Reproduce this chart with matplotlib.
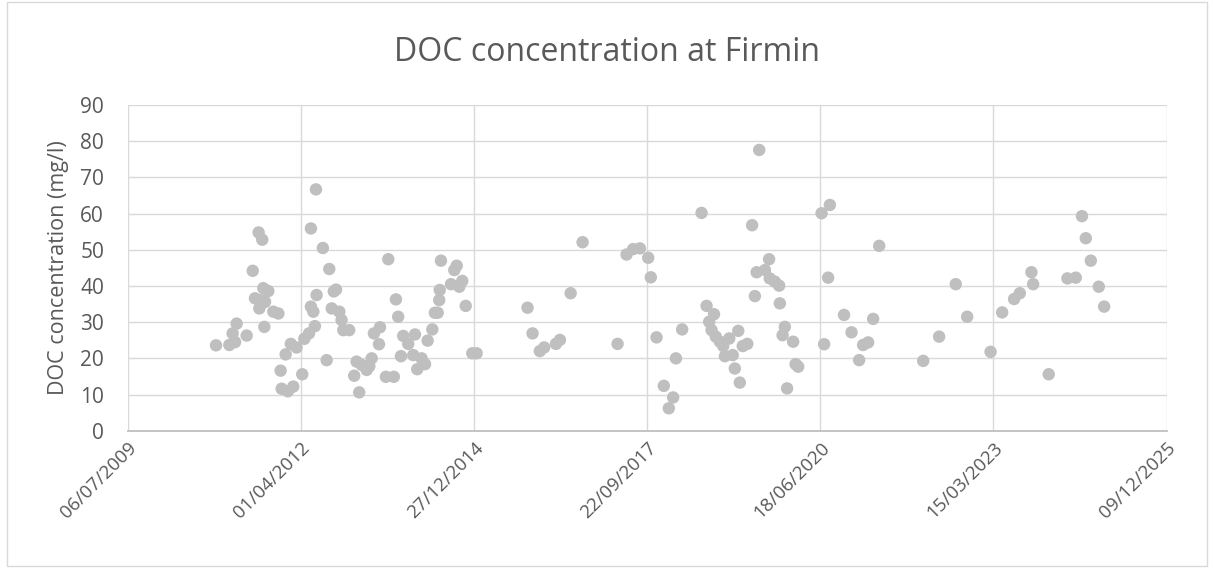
import matplotlib
matplotlib.use("Agg")
import matplotlib.pyplot as plt
import matplotlib.dates as mdates
import matplotlib.patches as mpatches
import pandas as pd
import numpy as np

# Sample dates as Excel serial day numbers
date_serials = [
    40510, 40587, 40606, 40620, 40629, 40687, 40722, 40756, 40777, 40783,
    40812, 40735, 40765, 40793, 40760, 40841, 40870, 40789, 40883, 40889,
    40925, 40956, 40912, 40942, 40975, 41008, 41020, 41047, 41081, 41058,
    41091, 41072, 41058, 41087, 41127, 41164, 41190, 41203, 41178, 41222,
    41235, 41245, 41279, 41149, 41322, 41351, 41380, 41409, 41395, 41308,
    41337, 41422, 41457, 41451, 41505, 41491, 41537, 41549, 41562, 41591,
    41620, 41659, 41578, 41649, 41697, 41717, 41672, 41732, 41759, 41774,
    41790, 41799, 41802, 41809, 41867, 41886, 41900, 41915, 41932, 41952,
    41990, 42015,
    42309, 42338, 42380, 42405, 42473, 42496, 42558, 42627, 42829, 42881,
    42919, 42958, 43006, 43021, 43054, 43096, 43125, 43150, 43166, 43202,
    43314, 43343, 43386, 43358, 43372, 43396, 43420, 43439, 43449, 43494,
    43474, 43526, 43552, 43578, 43506, 43535, 43622, 43606, 43632, 43647,
    43680, 43704, 43708, 43737, 43762, 43766, 43795, 43782, 43843, 43808,
    43857, 43872, 44022, 44007, 44055, 44045, 44137, 44180, 44224, 44247,
    44276, 44305, 44340, 44594, 44686, 44782, 44848, 44983, 45050, 45119,
    45152, 45219, 45229, 45319, 45427, 45475, 45511, 45533, 45562, 45608,
    45639,
]
doc_mg_l = [
    23.6, 23.7, 26.9, 24.5, 29.6, 26.3, 44.2, 54.8, 52.8, 39.4,
    38.6, 36.6, 36.1, 35.6, 33.8, 32.9, 32.4, 28.7, 16.6, 11.6,
    10.9, 12.2, 21.1, 24.0, 23.0, 15.6, 25.4, 26.9, 28.9, 34.3,
    37.5, 32.9, 55.9, 66.7, 50.5, 44.7, 38.5, 39.0, 33.8, 32.9,
    30.6, 27.8, 27.8, 19.5, 19.1, 18.2, 16.8, 20.0, 17.8, 15.2,
    10.6, 26.9, 28.6, 23.9, 47.4, 14.9, 14.9, 36.3, 31.5, 26.2,
    24.0, 26.6, 20.6, 20.9, 20.0, 18.4, 17.0, 24.9, 28.0, 32.6,
    32.6, 36.1, 38.9, 47.0, 40.5, 44.4, 45.6, 39.8, 41.4, 34.5,
    21.4, 21.4,
    34.0, 26.9, 22.0, 23.0, 24.0, 25.1, 38.0, 52.1, 24.0, 48.7,
    50.2, 50.4, 47.8, 42.4, 25.8, 12.4, 6.2, 9.2, 20.0, 28.0,
    60.2, 34.5, 32.2, 30.1, 27.8, 26.0, 24.6, 23.4, 20.6, 20.9,
    25.5, 27.6, 23.4, 24.0, 17.2, 13.3, 37.2, 56.8, 43.8, 77.6,
    44.4, 47.4, 42.1, 41.2, 40.1, 35.2, 28.7, 26.4, 24.6, 11.7,
    18.4, 17.7, 23.9, 60.1, 62.4, 42.3, 32.0, 27.2, 19.5, 23.7,
    24.4, 30.9, 51.1, 19.3, 26.0, 40.5, 31.5, 21.8, 32.7, 36.4,
    38.0, 43.8, 40.5, 15.6, 42.1, 42.3, 59.3, 53.2, 47.0, 39.8,
    34.3,
]
x_tick_serials = [40000, 41000, 42000, 43000, 44000, 45000, 46000]
y_ticks = [0, 10, 20, 30, 40, 50, 60, 70, 80, 90]

title = "DOC concentration at Firmin"
y_label = "DOC concentration (mg/l)"

origin = "1899-12-30"
dates = pd.to_datetime(date_serials, unit="D", origin=origin)
x_ticks = pd.to_datetime(x_tick_serials, unit="D", origin=origin)

plt.rcParams['font.family'] = ['Open Sans', 'DejaVu Sans']

fig = plt.figure(figsize=(12.14, 5.68), dpi=100)
ax = fig.add_axes([0.1052, 0.2417, 0.961 - 0.1052, 0.815 - 0.2417])

# chart-area border
fig.patches.append(mpatches.Rectangle((0.006, 0.004), 0.988, 0.992, transform=fig.transFigure,
                                      fill=False, edgecolor="#D9D9D9", linewidth=1.0))

ax.scatter(dates, doc_mg_l, s=80, color="#BFBFBF", edgecolors="none", zorder=3)

ax.set_xlim(x_ticks[0], x_ticks[-1])
ax.set_ylim(0, 90)
ax.set_xticks(x_ticks)
ax.xaxis.set_major_formatter(mdates.DateFormatter("%d/%m/%Y"))
ax.set_yticks(y_ticks)

ax.grid(True, color="#D9D9D9", linewidth=1.0)
ax.set_axisbelow(True)
for side in ["top", "right", "left"]:
    ax.spines[side].set_visible(False)
ax.spines["bottom"].set_color("#BFBFBF")
ax.spines["bottom"].set_linewidth(1.3)

ax.tick_params(axis="both", length=0, colors="#595959")
ax.tick_params(axis="x", pad=6, labelsize=13.5)
ax.tick_params(axis="y", pad=17, labelsize=15)
for lab in ax.get_xticklabels():
    lab.set_rotation(45)
    lab.set_ha("right")
    lab.set_va("top")
    lab.set_rotation_mode("anchor")

ax.set_ylabel(y_label, fontsize=15.5, color="#595959", labelpad=8)
fig.text(0.5, 0.908, title, ha="center", va="center", fontsize=23, color="#595959")

fig.savefig("out.png", dpi=100)
